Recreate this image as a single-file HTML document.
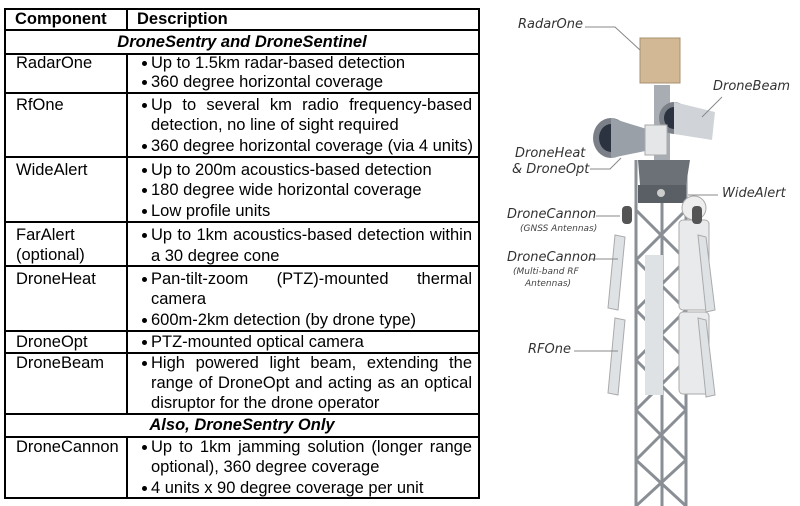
<!DOCTYPE html>
<html><head><meta charset="utf-8"><style>
body{margin:0;width:800px;height:506px;background:#fff;position:relative;overflow:hidden;font-family:"Liberation Sans",Arial,sans-serif;font-size:16.5px;color:#000}
.a{position:absolute;white-space:nowrap;line-height:20px;height:20px}
.h{position:absolute;background:#000;height:2px}
.v{position:absolute;background:#000;width:2px}
.d{left:151px;width:321px}
.j{text-align:justify;text-align-last:justify}
.b{position:absolute;width:5px;height:5px;border-radius:50%;background:#000;left:142px}
.c{left:16px}
.lab{position:absolute;font-family:"DejaVu Sans",sans-serif;font-style:italic;font-size:13px;color:#333;white-space:nowrap}
.sm{font-size:9px;color:#444}
</style></head><body>
<div class="h" style="left:4px;width:476px;top:8px"></div>
<div class="h" style="left:4px;width:476px;top:29px"></div>
<div class="h" style="left:4px;width:476px;top:53px"></div>
<div class="h" style="left:4px;width:476px;top:92px"></div>
<div class="h" style="left:4px;width:476px;top:156px"></div>
<div class="h" style="left:4px;width:476px;top:221px"></div>
<div class="h" style="left:4px;width:476px;top:265px"></div>
<div class="h" style="left:4px;width:476px;top:330px"></div>
<div class="h" style="left:4px;width:476px;top:352px"></div>
<div class="h" style="left:4px;width:476px;top:413px"></div>
<div class="h" style="left:4px;width:476px;top:436px"></div>
<div class="h" style="left:4px;width:476px;top:497px"></div>
<div class="v" style="left:4px;top:8px;height:491px"></div>
<div class="v" style="left:478px;top:8px;height:491px"></div>
<div class="v" style="left:126px;top:8px;height:23px"></div>
<div class="v" style="left:126px;top:53px;height:362px"></div>
<div class="v" style="left:126px;top:436px;height:63px"></div>

<div class="a" style="left:15px;top:9px;font-weight:bold">Component</div>
<div class="a" style="left:137px;top:9px;font-weight:bold">Description</div>
<div class="a" style="left:4px;width:476px;text-align:center;top:32px;font-weight:bold;font-style:italic">DroneSentry and DroneSentinel</div>

<div class="a c" style="top:53px">RadarOne</div>
<div class="b" style="top:61px"></div><div class="a d" style="top:53px">Up to 1.5km radar-based detection</div>
<div class="b" style="top:80px"></div><div class="a d" style="top:72px">360 degree horizontal coverage</div>

<div class="a c" style="top:95px">RfOne</div>
<div class="b" style="top:103px"></div><div class="a d j" style="top:95px">Up to several km radio frequency-based</div>
<div class="a d" style="top:115px">detection, no line of sight required</div>
<div class="b" style="top:144px"></div><div class="a d" style="top:136px">360 degree horizontal coverage (via 4 units)</div>

<div class="a c" style="top:160px">WideAlert</div>
<div class="b" style="top:168px"></div><div class="a d" style="top:160px">Up to 200m acoustics-based detection</div>
<div class="b" style="top:188px"></div><div class="a d" style="top:180px">180 degree wide horizontal coverage</div>
<div class="b" style="top:209px"></div><div class="a d" style="top:201px">Low profile units</div>

<div class="a c" style="top:225px">FarAlert</div>
<div class="a c" style="top:245px">(optional)</div>
<div class="b" style="top:233px"></div><div class="a d j" style="top:225px">Up to 1km acoustics-based detection within</div>
<div class="a d" style="top:246px">a 30 degree cone</div>

<div class="a c" style="top:269px">DroneHeat</div>
<div class="b" style="top:277px"></div><div class="a d j" style="top:269px">Pan-tilt-zoom (PTZ)-mounted thermal</div>
<div class="a d" style="top:289px">camera</div>
<div class="b" style="top:318px"></div><div class="a d" style="top:310px">600m-2km detection (by drone type)</div>

<div class="a c" style="top:332px">DroneOpt</div>
<div class="b" style="top:340px"></div><div class="a d" style="top:332px">PTZ-mounted optical camera</div>

<div class="a c" style="top:353px">DroneBeam</div>
<div class="b" style="top:361px"></div><div class="a d j" style="top:353px">High powered light beam, extending the</div>
<div class="a d j" style="top:373px">range of DroneOpt and acting as an optical</div>
<div class="a d" style="top:393px">disruptor for the drone operator</div>

<div class="a" style="left:4px;width:476px;text-align:center;top:415px;font-weight:bold;font-style:italic">Also, DroneSentry Only</div>

<div class="a c" style="top:437px">DroneCannon</div>
<div class="b" style="top:445px"></div><div class="a d j" style="top:437px">Up to 1km jamming solution (longer range</div>
<div class="a d" style="top:457px">optional), 360 degree coverage</div>
<div class="b" style="top:486px"></div><div class="a d" style="top:478px">4 units x 90 degree coverage per unit</div>

<svg style="position:absolute;left:490px;top:0" width="310" height="506" viewBox="0 0 310 506">
<g stroke="#8a8f96" stroke-width="3" fill="none">
<line x1="146" y1="160" x2="146" y2="506"/><line x1="196" y1="160" x2="196" y2="506"/><line x1="172" y1="160" x2="172" y2="506"/>
<path d="M146 210 L196 260 M196 210 L146 260 M146 260 L196 310 M196 260 L146 310 M146 310 L196 360 M196 310 L146 360 M146 360 L196 410 M196 360 L146 410 M146 410 L196 460 M196 410 L146 460 M146 460 L196 506 M196 460 L146 506"/>
</g>
<rect x="164" y="85" width="16" height="80" fill="#a8adb3"/>
<rect x="150" y="38" width="40" height="45" fill="#d2b894" stroke="#a89070"/>
<path d="M148 160 L200 160 L196 185 L150 185 Z" fill="#6c7178"/>
<rect x="148" y="185" width="48" height="18" fill="#5a5f66"/>
<circle cx="171" cy="193" r="4" fill="#ccc"/>
<ellipse cx="121" cy="138" rx="18" ry="20" fill="#7b8088"/>
<ellipse cx="121" cy="138" rx="12" ry="14" fill="#2b3340"/>
<path d="M121 118 L160 130 L160 150 L121 158 Z" fill="#9aa0a8"/>
<ellipse cx="184" cy="118" rx="15" ry="16" fill="#7b8088"/>
<ellipse cx="184" cy="118" rx="10" ry="11" fill="#2b3340"/>
<path d="M184 102 L225 112 L222 140 L184 134 Z" fill="#d0d4d9"/>
<rect x="155" y="125" width="22" height="30" fill="#e4e6e8" stroke="#aaa"/>
<circle cx="204" cy="208" r="12" fill="#eee" stroke="#aaa"/>
<rect x="189" y="220" width="30" height="90" rx="4" fill="#e8eaec" stroke="#aaa"/>
<rect x="189" y="312" width="30" height="82" rx="4" fill="#e8eaec" stroke="#aaa"/>
<rect x="155" y="255" width="18" height="140" fill="#dfe2e5"/>
<rect x="132" y="206" width="10" height="18" rx="4" fill="#555"/><rect x="202" y="206" width="10" height="18" rx="4" fill="#555"/>
<path d="M125 235 L135 237 L128 310 L118 308 Z" fill="#dfe2e5" stroke="#aaa"/>
<path d="M125 318 L135 320 L128 395 L118 393 Z" fill="#dfe2e5" stroke="#aaa"/>
<path d="M208 235 L216 237 L225 310 L216 312 Z" fill="#dfe2e5" stroke="#aaa"/>
<path d="M208 318 L216 320 L225 395 L216 397 Z" fill="#dfe2e5" stroke="#aaa"/>
<g stroke="#888" stroke-width="1" fill="none">
<path d="M95 27 L125 27 L150 50"/><path d="M232 97 L212 117"/><path d="M100 169 L120 169 L131 158"/>
<path d="M198 195 L228 195"/><path d="M106 216 L130 216"/><path d="M100 259 L128 259"/><path d="M84 351 L128 351"/>
</g>
</svg>
<div class="lab" style="left:518px;top:17px">RadarOne</div>
<div class="lab" style="left:713px;top:79px">DroneBeam</div>
<div class="lab" style="left:515px;top:146px">DroneHeat</div>
<div class="lab" style="left:512px;top:162px">&amp; DroneOpt</div>
<div class="lab" style="left:722px;top:186px">WideAlert</div>
<div class="lab" style="left:507px;top:207px">DroneCannon</div>
<div class="lab sm" style="left:520px;top:224px">(GNSS Antennas)</div>
<div class="lab" style="left:507px;top:250px">DroneCannon</div>
<div class="lab sm" style="left:513px;top:267px">(Multi-band RF</div>
<div class="lab sm" style="left:525px;top:279px">Antennas)</div>
<div class="lab" style="left:528px;top:342px">RFOne</div>
</body></html>
